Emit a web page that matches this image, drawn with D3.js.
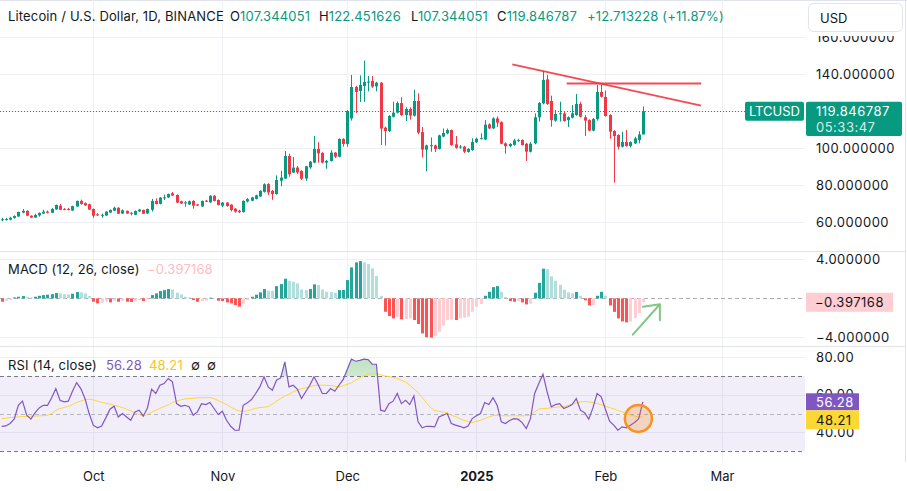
<!DOCTYPE html>
<html>
<head>
<meta charset="utf-8">
<script src="https://cdn.jsdelivr.net/npm/d3@7"></script>
<style>
  body { margin: 0; background: #fff; }
  svg { display: block; font-family: Inter, "Noto Sans", sans-serif; }
</style>
</head>
<body>
<svg id="chart" width="907" height="491"></svg>
<script>
// Litecoin / U.S. Dollar daily candles, MACD histogram and RSI

const firstDay = "2024-09-09";

const opens = [
  61.2, 61.5, 61.3, 62.2, 63.0, 65.1, 66.0, 63.4, 62.4, 63.6,
  64.6, 65.6, 65.0, 66.8, 68.8, 67.1, 67.0, 66.2, 68.4, 71.4,
  70.2, 69.6, 67.0, 64.1, 63.7, 63.5, 65.1, 66.1, 67.7, 64.6,
  66.0, 65.0, 63.9, 65.7, 66.5, 64.6, 66.6, 71.4, 69.8, 73.1,
  73.3, 75.5, 74.6, 71.2, 70.4, 69.5, 71.4, 69.5, 68.4, 71.5,
  70.6, 74.2, 71.9, 68.8, 70.5, 69.4, 67.2, 66.1, 65.4, 71.1,
  71.5, 72.5, 73.8, 76.3, 80.5, 76.8, 75.1, 82.3, 83.5, 95.7,
  86.7, 89.4, 87.6, 83.5, 89.5, 92.1, 99.5, 97.3, 92.1, 93.0,
  97.5, 95.3, 104.9, 102.2, 116.0, 133.0, 130.8, 133.5, 135.7, 136.2,
  133.3, 135.3, 111.0, 109.2, 116.9, 119.1, 124.3, 117.8, 121.1, 117.5,
  125.4, 108.6, 99.1, 101.3, 101.4, 99.5, 106.2, 107.9, 109.7, 102.0,
  100.6, 100.7, 97.9, 98.9, 103.1, 105.1, 104.6, 112.8, 110.6, 116.0,
  114.0, 102.5, 101.0, 101.7, 104.0, 104.3, 102.3, 98.0, 102.5, 116.6,
  124.1, 137.1, 125.4, 114.8, 118.6, 118.7, 115.1, 116.4, 117.8, 123.8,
  116.6, 115.1, 109.4, 115.7, 130.3, 127.6, 117.8, 109.2, 107.0, 100.7,
  103.2, 101.1, 102.5, 104.3, 107.344051
];
const highs = [
  62.2, 62.3, 62.8, 63.6, 65.6, 67.0, 66.4, 63.6, 64.4, 65.2,
  66.6, 66.2, 67.6, 69.4, 69.7, 67.5, 67.6, 68.8, 71.6, 72.1,
  70.6, 69.9, 67.3, 64.8, 64.6, 65.9, 66.8, 68.3, 68.0, 66.8,
  66.2, 65.3, 66.2, 67.1, 66.7, 67.3, 72.5, 72.8, 73.5, 74.8,
  75.4, 76.2, 74.9, 71.5, 71.2, 71.6, 71.8, 69.8, 71.6, 71.9,
  74.5, 74.5, 72.2, 70.8, 70.8, 69.6, 67.5, 66.6, 71.7, 72.9,
  73.6, 74.8, 77.2, 80.9, 81.0, 77.3, 85.2, 87.7, 98.4, 97.0,
  95.1, 90.3, 88.0, 90.4, 93.0, 106.5, 103.2, 97.8, 93.5, 98.8,
  97.8, 105.2, 105.3, 120.5, 139.5, 133.6, 139.2, 147.2, 138.9, 138.9,
  135.8, 135.6, 111.5, 117.8, 125.0, 125.2, 127.4, 122.0, 122.0, 131.5,
  129.5, 111.4, 101.8, 105.7, 101.8, 107.2, 110.5, 110.5, 110.0, 106.5,
  101.6, 101.2, 99.9, 105.2, 105.6, 107.9, 115.1, 113.3, 116.6, 117.1,
  114.4, 103.0, 102.6, 105.0, 105.0, 104.7, 102.8, 103.2, 118.7, 124.8,
  141.7, 139.5, 128.3, 120.5, 125.0, 119.6, 117.1, 123.2, 129.2, 125.0,
  117.8, 115.5, 116.2, 134.1, 134.1, 131.0, 118.3, 109.6, 107.4, 108.8,
  109.7, 103.6, 106.1, 109.1, 122.451626
];
const lows = [
  60.4, 60.8, 60.9, 61.8, 62.8, 64.7, 63.2, 62.1, 62.2, 62.9,
  64.3, 64.6, 64.8, 66.6, 66.4, 66.4, 66.3, 66.0, 68.2, 69.4,
  68.7, 66.5, 62.3, 63.3, 62.3, 63.3, 64.9, 65.9, 64.3, 64.4,
  64.4, 63.6, 63.7, 65.5, 64.3, 64.4, 65.6, 69.5, 69.5, 71.9,
  73.0, 74.0, 70.3, 69.8, 68.3, 69.2, 67.2, 68.6, 68.2, 70.8,
  70.4, 71.2, 68.9, 68.0, 68.3, 65.7, 65.0, 64.8, 65.1, 70.6,
  71.2, 72.2, 73.5, 75.9, 74.6, 72.0, 74.8, 79.3, 83.2, 84.5,
  86.5, 86.0, 82.7, 82.2, 88.8, 91.8, 92.1, 91.7, 88.8, 92.7,
  94.5, 95.0, 100.7, 100.7, 114.8, 118.9, 124.9, 125.0, 130.6, 132.5,
  130.6, 101.6, 101.3, 108.6, 116.5, 118.7, 117.4, 114.6, 115.3, 117.0,
  107.4, 94.8, 87.4, 98.0, 97.8, 99.2, 105.8, 107.4, 101.2, 99.6,
  99.6, 97.3, 97.5, 98.5, 102.7, 104.7, 104.2, 110.2, 110.3, 111.4,
  102.0, 96.9, 100.4, 101.3, 103.3, 101.3, 93.0, 97.6, 102.0, 114.3,
  123.6, 123.3, 111.5, 114.2, 114.3, 114.2, 111.4, 116.0, 117.4, 116.5,
  106.5, 109.0, 109.0, 114.8, 127.2, 117.0, 105.0, 81.3, 99.2, 100.3,
  100.7, 100.3, 102.1, 102.5, 107.344051
];
const closes = [
  61.5, 61.6, 62.3, 63.2, 65.4, 66.0, 63.4, 62.4, 63.8, 64.9,
  65.6, 65.0, 67.0, 69.2, 66.6, 66.9, 66.8, 68.6, 71.4, 69.8,
  69.0, 66.7, 63.4, 63.9, 63.9, 65.6, 66.5, 67.7, 64.5, 66.3,
  64.6, 64.8, 66.0, 66.7, 64.5, 67.0, 71.4, 69.7, 73.2, 73.3,
  75.1, 74.3, 70.5, 70.0, 70.6, 71.2, 68.8, 68.9, 71.4, 71.3,
  74.2, 71.4, 69.2, 70.5, 68.6, 66.5, 65.6, 65.3, 71.4, 72.4,
  73.3, 74.4, 76.8, 80.4, 76.0, 75.1, 82.7, 84.0, 95.7, 85.8,
  89.4, 86.8, 83.4, 90.1, 92.6, 99.5, 97.1, 92.1, 93.0, 97.5,
  95.3, 104.9, 102.2, 120.0, 133.0, 130.3, 134.1, 135.7, 135.9, 133.2,
  135.3, 110.5, 109.2, 117.3, 119.1, 124.3, 117.8, 121.1, 117.5, 125.4,
  108.3, 99.1, 101.4, 101.5, 99.5, 106.8, 108.1, 109.7, 101.6, 100.1,
  100.8, 98.0, 99.5, 103.2, 105.0, 105.3, 112.6, 110.6, 116.0, 113.7,
  102.3, 101.0, 102.2, 104.1, 104.2, 101.6, 98.0, 102.3, 116.6, 124.3,
  136.8, 123.8, 115.1, 118.4, 118.8, 114.6, 116.6, 118.7, 123.8, 116.9,
  114.8, 109.4, 115.7, 130.3, 127.7, 117.3, 108.8, 106.5, 100.7, 103.2,
  101.1, 103.2, 105.2, 107.3, 119.846787
];

const macdHist = [
  -0.34, -0.24, -0.17, 0.10, 0.17, 0.24, 0.17, 0.10, 0.17, 0.27,
  0.34, 0.38, 0.44, 0.55, 0.51, 0.44, 0.41, 0.48, 0.65, 0.62,
  0.51, 0.24, -0.34, -0.51, -0.44, -0.34, -0.41, -0.24, -0.34, -0.27,
  -0.34, -0.36, -0.24, -0.17, -0.27, -0.10, 0.34, 0.51, 0.75, 0.85,
  0.96, 0.92, 0.58, 0.41, 0.17, 0.10, -0.17, -0.34, -0.27, -0.24,
  0.07, 0.03, -0.24, -0.27, -0.41, -0.51, -0.68, -0.85, -0.51, -0.17,
  0.17, 0.38, 0.62, 0.96, 0.79, 0.78, 1.26, 1.47, 2.02, 1.81,
  1.71, 1.54, 0.92, 0.85, 0.96, 1.44, 1.37, 0.92, 0.68, 0.65,
  0.58, 0.85, 0.87, 1.88, 3.18, 3.69, 3.83, 3.69, 3.52, 3.08,
  2.29, 0.27, -1.37, -1.81, -2.05, -1.88, -2.15, -2.12, -2.05, -2.22,
  -2.63, -3.59, -3.98, -4.02, -3.86, -3.42, -2.80, -2.20, -2.18, -2.22,
  -2.05, -1.98, -1.88, -1.37, -0.85, -0.58, 0.27, 0.68, 1.16, 1.26,
  0.68, 0.14, -0.27, -0.34, -0.27, -0.41, -0.62, -0.55, 0.58, 1.60,
  3.05, 3.00, 2.26, 1.81, 1.40, 0.89, 0.62, 0.51, 0.66, 0.27,
  -0.20, -0.72, -0.70, 0.27, 0.68, 0.27, -0.72, -1.38, -2.05, -2.36,
  -2.46, -2.36, -2.02, -1.50, -0.397168
];

const rsi = [
  43.2, 43.4, 44.7, 47.0, 54.4, 56.6, 49.1, 47.0, 50.4, 53.0,
  54.4, 54.4, 58.4, 63.3, 57.1, 56.2, 56.6, 61.9, 66.5, 63.3,
  58.0, 50.0, 43.8, 42.4, 43.4, 47.7, 52.3, 53.9, 48.2, 50.0,
  48.2, 46.4, 50.9, 51.8, 48.6, 53.0, 63.0, 60.7, 65.1, 66.0,
  68.7, 66.9, 55.3, 53.9, 54.4, 53.6, 49.1, 50.9, 55.3, 54.8,
  55.9, 52.7, 49.5, 51.2, 46.4, 43.2, 41.1, 41.1, 54.4, 55.7,
  57.5, 60.7, 64.2, 69.6, 64.2, 62.4, 67.8, 69.0, 77.6, 64.2,
  65.1, 63.0, 58.0, 61.6, 65.1, 69.6, 65.5, 60.7, 60.7, 63.3,
  61.9, 65.1, 68.1, 73.6, 79.0, 77.9, 78.4, 79.0, 78.8, 76.3,
  76.3, 51.8, 51.2, 55.3, 56.6, 60.7, 55.3, 57.1, 54.8, 59.4,
  45.6, 42.4, 43.2, 43.2, 42.9, 48.2, 49.1, 50.0, 44.7, 43.8,
  43.2, 42.4, 43.4, 47.3, 48.8, 50.0, 55.9, 54.8, 58.5, 54.4,
  45.6, 44.7, 46.3, 47.3, 47.0, 45.2, 42.0, 47.3, 60.7, 66.0,
  71.0, 61.6, 53.6, 54.8, 55.3, 52.7, 53.6, 54.8, 58.0, 51.8,
  50.5, 47.0, 53.0, 60.7, 58.9, 52.3, 45.9, 43.8, 41.1, 42.9,
  42.4, 43.8, 45.2, 47.3, 56.28
];

const rsiMa = [
  47.3, 47.5, 47.9, 48.0, 48.2, 48.4, 48.4, 48.6, 48.6, 48.8,
  48.9, 49.1, 50.0, 51.6, 52.7, 53.2, 53.9, 54.8, 55.9, 56.6,
  57.5, 57.6, 57.3, 56.6, 56.0, 55.5, 55.0, 54.4, 53.9, 53.2,
  52.3, 51.4, 50.4, 49.5, 48.6, 49.6, 50.7, 51.8, 52.8, 53.7,
  54.6, 55.9, 56.6, 57.3, 57.8, 58.0, 58.2, 58.4, 58.4, 58.5,
  58.5, 58.0, 56.9, 55.9, 54.8, 53.4, 52.3, 51.4, 51.1, 51.4,
  52.1, 52.8, 53.2, 53.4, 53.7, 55.0, 56.6, 58.0, 59.4, 60.3,
  61.6, 62.6, 63.2, 63.7, 64.2, 64.9, 65.1, 65.1, 65.1, 64.9,
  64.6, 64.2, 64.9, 65.6, 66.4, 67.8, 69.0, 70.1, 71.0, 71.3,
  71.3, 70.8, 70.1, 69.7, 69.2, 68.7, 67.8, 66.9, 65.1, 63.2,
  61.2, 58.5, 55.9, 53.2, 51.6, 51.1, 50.9, 50.4, 49.1, 48.4,
  47.3, 46.4, 45.7, 45.2, 45.9, 46.4, 47.3, 48.2, 48.9, 49.1,
  48.9, 48.8, 48.8, 48.8, 48.8, 48.8, 48.9, 49.1, 50.9, 52.3,
  52.7, 52.8, 53.0, 53.4, 53.6, 53.7, 54.3, 55.0, 55.7, 56.2,
  56.4, 56.2, 55.9, 55.3, 54.8, 53.9, 53.2, 52.5, 51.6, 50.9,
  50.0, 49.3, 48.6, 48.0, 48.21
];

// axis ticks
const monthTicks = ["2024-10-01", "2024-11-01", "2024-12-01", "2025-01-01", "2025-02-01", "2025-03-01"];
const monthLabels = ["Oct", "Nov", "Dec", "2025", "Feb", "Mar"];
const priceGrid = [60, 80, 100, 120, 140, 160];
const priceTicks = [60, 80, 100, 140, 160];  // 120 sits under the last-price tag
const macdTicks = [4, -4];
const rsiTicks = [80, 60, 40];

// drawings placed on the chart (date, value)
const trendLines = [
  { from: ["2025-01-09T15:00Z", 145.2], to: ["2025-02-24T00:00Z", 122.9] },
  { from: ["2025-01-22T17:00Z", 134.8], to: ["2025-02-24T00:00Z", 134.8] }
];
const arrowMark = { from: ["2025-02-07T14:00Z", -3.72], to: ["2025-02-14T02:00Z", -0.6] };
const circleMark = { at: ["2025-02-08T22:00Z", 47.4] };

// ---------------------------------------------------------------
const W = 907, H = 491, plotRight = 805;
const green = "#089981", red = "#f23645", text = "#131722";
const gridColor = "#eef0f4", sepColor = "#e0e3eb";
const fontFam = "Inter, 'Noto Sans', sans-serif";

const svg = d3.select("#chart");
const dates = d3.utcDay.range(new Date(firstDay), d3.utcDay.offset(new Date(firstDay), closes.length));
const candles = dates.map((d, i) => ({ date: d, o: opens[i], h: highs[i], l: lows[i], c: closes[i] }));

const x = d3.scaleUtc()
  .domain([new Date("2024-09-09"), new Date("2025-03-01")])
  .range([1.7, 722]);
const yPrice = d3.scaleLinear().domain([60, 160]).range([222, 37]);
const yMacd = d3.scaleLinear().domain([-4, 4]).range([337.4, 259.4]);
const yRsi = d3.scaleLinear().domain([40, 80]).range([432.3, 357.3]);

const px = d => Math.round(x(d));

// clip paths for panels
const defs = svg.append("defs");
defs.append("clipPath").attr("id", "clipPrice").append("rect").attr("x", 0).attr("y", 0).attr("width", plotRight).attr("height", 251);
defs.append("clipPath").attr("id", "clipMacd").append("rect").attr("x", 0).attr("y", 251).attr("width", plotRight).attr("height", 95);
defs.append("clipPath").attr("id", "clipRsi").append("rect").attr("x", 0).attr("y", 346).attr("width", plotRight).attr("height", 115);
defs.append("clipPath").attr("id", "clipOver").append("rect").attr("x", 0).attr("y", 346).attr("width", plotRight).attr("height", yRsi(70) - 346);
const grad = defs.append("linearGradient").attr("id", "obGrad").attr("x1", 0).attr("x2", 0).attr("y1", 0).attr("y2", 1);
grad.append("stop").attr("offset", "0%").attr("stop-color", "rgba(76,175,80,0.35)");
grad.append("stop").attr("offset", "100%").attr("stop-color", "rgba(76,175,80,0.04)");

// top and right frame
svg.append("line").attr("x1", 0).attr("x2", W).attr("y1", 0.5).attr("y2", 0.5).attr("stroke", sepColor);
svg.append("line").attr("x1", 905.5).attr("x2", 905.5).attr("y1", 0).attr("y2", 462).attr("stroke", sepColor);

// vertical month grid through all panes
svg.append("g").selectAll("line")
  .data(monthTicks)
  .join("line")
  .attr("x1", d => px(new Date(d)) + 0.5)
  .attr("x2", d => px(new Date(d)) + 0.5)
  .attr("y1", 0).attr("y2", 461)
  .attr("stroke", gridColor);

// horizontal grid, price pane
svg.append("g").selectAll("line")
  .data(priceGrid)
  .join("line")
  .attr("x1", 0).attr("x2", plotRight)
  .attr("y1", d => Math.round(yPrice(d)) + 0.5)
  .attr("y2", d => Math.round(yPrice(d)) + 0.5)
  .attr("stroke", gridColor);

// MACD and RSI grid
svg.append("g").selectAll("line")
  .data(macdTicks)
  .join("line")
  .attr("x1", 0).attr("x2", plotRight)
  .attr("y1", d => Math.round(yMacd(d)) + 0.5)
  .attr("y2", d => Math.round(yMacd(d)) + 0.5)
  .attr("stroke", gridColor);
svg.append("g").selectAll("line")
  .data(rsiTicks)
  .join("line")
  .attr("x1", 0).attr("x2", plotRight)
  .attr("y1", d => Math.round(yRsi(d)) + 0.5)
  .attr("y2", d => Math.round(yRsi(d)) + 0.5)
  .attr("stroke", gridColor);

// pane separators
[251, 346].forEach(y => {
  svg.append("line").attr("x1", 0).attr("x2", 906).attr("y1", y + 0.5).attr("y2", y + 0.5).attr("stroke", sepColor);
});

// ---------------- price pane ----------------
const pricePane = svg.append("g").attr("clip-path", "url(#clipPrice)");

const lastClose = closes[closes.length - 1];
pricePane.append("line")
  .attr("x1", 0).attr("x2", 745)
  .attr("y1", Math.round(yPrice(lastClose)) + 0.5)
  .attr("y2", Math.round(yPrice(lastClose)) + 0.5)
  .attr("stroke", green)
  .attr("stroke-dasharray", "1 2");

const candleG = pricePane.append("g")
  .selectAll("g")
  .data(candles)
  .join("g")
  .attr("fill", d => d.c >= d.o ? green : red)
  .attr("stroke", d => d.c >= d.o ? green : red);

candleG.append("line")
  .attr("x1", d => px(d.date) + 0.5)
  .attr("x2", d => px(d.date) + 0.5)
  .attr("y1", d => yPrice(d.h))
  .attr("y2", d => yPrice(d.l))
  .attr("stroke-width", 1);

candleG.append("rect")
  .attr("stroke", "none")
  .attr("x", d => px(d.date) - 1)
  .attr("width", 3)
  .attr("y", d => yPrice(Math.max(d.o, d.c)))
  .attr("height", d => Math.max(1, Math.abs(yPrice(d.o) - yPrice(d.c))));

// trend lines
pricePane.append("g").selectAll("line")
  .data(trendLines)
  .join("line")
  .attr("x1", d => x(new Date(d.from[0])))
  .attr("y1", d => yPrice(d.from[1]))
  .attr("x2", d => x(new Date(d.to[0])))
  .attr("y2", d => yPrice(d.to[1]))
  .attr("stroke", red)
  .attr("stroke-opacity", 0.9)
  .attr("stroke-width", 2);

// price axis
const priceAxis = svg.append("g")
  .attr("transform", `translate(${plotRight},0)`)
  .call(d3.axisRight(yPrice).tickValues(priceTicks).tickSize(0).tickPadding(11).tickFormat(d3.format(".6f")));
priceAxis.select(".domain").remove();
priceAxis.selectAll("text").attr("fill", text).attr("font-size", 13).attr("letter-spacing", 0.5).attr("font-family", fontFam);

// mask the top of the axis under the currency button
svg.append("rect").attr("x", 806).attr("y", 1).attr("width", 99).attr("height", 35).attr("fill", "#fff");
svg.append("rect")
  .attr("x", 808.5).attr("y", 3.5).attr("width", 94).attr("height", 28).attr("rx", 5)
  .attr("fill", "#fff").attr("stroke", sepColor);
svg.append("text").attr("x", 820).attr("y", 22.5).attr("font-size", 13).attr("fill", text).text("USD");

// last price tag
const tagY = 101.7;
svg.append("rect").attr("x", 806).attr("y", tagY).attr("width", 96).attr("height", 34.3).attr("rx", 2).attr("fill", green);
svg.append("text").attr("x", 816).attr("y", tagY + 14).attr("font-size", 13).attr("letter-spacing", 0.5).attr("fill", "#fff").text(d3.format(".6f")(lastClose));
svg.append("text").attr("x", 816).attr("y", tagY + 30).attr("font-size", 13).attr("letter-spacing", 0.5).attr("fill", "#fff").attr("fill-opacity", 0.85).text("05:33:47");
svg.append("rect").attr("x", 745).attr("y", tagY).attr("width", 59).attr("height", 19).attr("rx", 2).attr("fill", green);
svg.append("text").attr("x", 749).attr("y", tagY + 14).attr("font-size", 13).attr("fill", "#fff").text("LTCUSD");

// header legend
const header = svg.append("text").attr("y", 21).attr("font-size", 13).attr("letter-spacing", 0.15).attr("fill", text);
header.append("tspan").attr("x", 8).text("Litecoin / U.S. Dollar, 1D, BINANCE");
const last = candles[candles.length - 1];
const f6 = d3.format(".6f");
const ohlc = [
  ["O", f6(last.o), 230], ["H", f6(last.h), 319], ["L", f6(last.l), 411], ["C", f6(last.c), 497]
];
ohlc.forEach(([k, v, xx]) => {
  header.append("tspan").attr("x", xx).attr("fill", text).text(k);
  header.append("tspan").attr("fill", green).text(v);
});
header.append("tspan").attr("x", 587).attr("fill", green).text("+12.713228 (+11.87%)");

// ---------------- MACD pane ----------------
const macdPane = svg.append("g").attr("clip-path", "url(#clipMacd)");
macdPane.append("line")
  .attr("x1", 0).attr("x2", plotRight)
  .attr("y1", Math.round(yMacd(0)) + 0.5).attr("y2", Math.round(yMacd(0)) + 0.5)
  .attr("stroke", "#9598a1").attr("stroke-opacity", 0.8).attr("stroke-dasharray", "4 3");

const histColor = (v, i) => {
  const prev = i > 0 ? macdHist[i - 1] : v;
  if (v >= 0) return prev < v ? "#26a69a" : "#b2dfdb";
  return prev < v ? "#ffcdd2" : "#ff5252";
};
macdPane.append("g").selectAll("rect")
  .data(macdHist)
  .join("rect")
  .attr("x", (d, i) => px(dates[i]) - 1)
  .attr("width", 3)
  .attr("y", d => Math.min(yMacd(d), yMacd(0)))
  .attr("height", d => Math.abs(yMacd(d) - yMacd(0)))
  .attr("fill", histColor);

// hand drawn arrow
const ax1 = x(new Date(arrowMark.from[0])), ay1 = yMacd(arrowMark.from[1]);
const ax2 = x(new Date(arrowMark.to[0])), ay2 = yMacd(arrowMark.to[1]);
macdPane.append("path")
  .attr("d", `M${ax1},${ay1}L${ax2},${ay2}M${ax2 - 17},${ay2 + 2.5}L${ax2},${ay2}L${ax2},${ay2 + 16}`)
  .attr("fill", "none").attr("stroke", "#81c784").attr("stroke-width", 2).attr("stroke-linecap", "round").attr("stroke-linejoin", "round");

const macdAxis = svg.append("g")
  .attr("transform", `translate(${plotRight},0)`)
  .call(d3.axisRight(yMacd).tickValues(macdTicks).tickSize(0).tickPadding(11).tickFormat(d3.format(".6f")));
macdAxis.select(".domain").remove();
macdAxis.selectAll("text").attr("fill", text).attr("font-size", 13).attr("letter-spacing", 0.5).attr("font-family", fontFam);

const macdLast = macdHist[macdHist.length - 1];
svg.append("rect").attr("x", 806).attr("y", yMacd(macdLast) - 9.5).attr("width", 87).attr("height", 19).attr("fill", "#ffcdd2");
svg.append("text").attr("x", 815).attr("y", yMacd(macdLast) + 4.5).attr("font-size", 13).attr("letter-spacing", 0.5).attr("fill", text).text(d3.format(".6f")(macdLast));

const macdLegend = svg.append("text").attr("y", 273.5).attr("font-size", 13).attr("letter-spacing", 0.15).attr("fill", text);
macdLegend.append("tspan").attr("x", 8).text("MACD (12, 26, close)");
macdLegend.append("tspan").attr("x", 147).attr("fill", "#ffbcc3").text(d3.format(".6f")(macdLast));

// ---------------- RSI pane ----------------
const rsiPane = svg.append("g").attr("clip-path", "url(#clipRsi)");
rsiPane.append("rect")
  .attr("x", 0).attr("width", plotRight)
  .attr("y", yRsi(70)).attr("height", yRsi(30) - yRsi(70))
  .attr("fill", "rgba(126,87,194,0.1)");
[70, 30].forEach(v => {
  rsiPane.append("line").attr("x1", 0).attr("x2", plotRight)
    .attr("y1", Math.round(yRsi(v)) + 0.5).attr("y2", Math.round(yRsi(v)) + 0.5)
    .attr("stroke", "#787b86").attr("stroke-dasharray", "4 3");
});
rsiPane.append("line").attr("x1", 0).attr("x2", plotRight)
  .attr("y1", Math.round(yRsi(50)) + 0.5).attr("y2", Math.round(yRsi(50)) + 0.5)
  .attr("stroke", "#787b86").attr("stroke-opacity", 0.5).attr("stroke-dasharray", "4 3");

// overbought fill
rsiPane.append("path")
  .datum(rsi)
  .attr("clip-path", "url(#clipOver)")
  .attr("fill", "url(#obGrad)")
  .attr("d", d3.area().x((d, i) => x(dates[i])).y0(yRsi(70)).y1(d => yRsi(d)));

rsiPane.append("path")
  .datum(rsiMa)
  .attr("fill", "none").attr("stroke", "#fdd835").attr("stroke-width", 1)
  .attr("d", d3.line().x((d, i) => x(dates[i])).y(d => yRsi(d)));
rsiPane.append("path")
  .datum(rsi)
  .attr("fill", "none").attr("stroke", "#7e57c2").attr("stroke-width", 1.2)
  .attr("d", d3.line().x((d, i) => x(dates[i])).y(d => yRsi(d)));

// hand drawn circle
rsiPane.append("circle")
  .attr("cx", x(new Date(circleMark.at[0])))
  .attr("cy", yRsi(circleMark.at[1]))
  .attr("r", 13.5)
  .attr("fill", "rgba(245,124,0,0.22)")
  .attr("stroke", "#f7931e").attr("stroke-width", 2.5);

const rsiAxis = svg.append("g")
  .attr("transform", `translate(${plotRight},0)`)
  .call(d3.axisRight(yRsi).tickValues(rsiTicks).tickSize(0).tickPadding(11).tickFormat(d3.format(".2f")));
rsiAxis.select(".domain").remove();
rsiAxis.selectAll("text").attr("fill", text).attr("font-size", 13).attr("letter-spacing", 0.5).attr("font-family", fontFam);

const rsiLast = rsi[rsi.length - 1], maLast = rsiMa[rsiMa.length - 1];
svg.append("rect").attr("x", 806).attr("y", 393.3).attr("width", 53).attr("height", 17).attr("fill", "#7e57c2");
svg.append("text").attr("x", 816).attr("y", 406.5).attr("font-size", 13).attr("letter-spacing", 0.5).attr("fill", "#fff").text(d3.format(".2f")(rsiLast));
svg.append("rect").attr("x", 806).attr("y", 410.3).attr("width", 53).attr("height", 19).attr("fill", "#fdd835");
svg.append("text").attr("x", 816).attr("y", 424.5).attr("font-size", 13).attr("letter-spacing", 0.5).attr("fill", text).text(d3.format(".2f")(maLast));

const rsiLegend = svg.append("text").attr("y", 369.5).attr("font-size", 13).attr("letter-spacing", 0.15).attr("fill", text);
rsiLegend.append("tspan").attr("x", 8).text("RSI (14, close)");
rsiLegend.append("tspan").attr("x", 106).attr("fill", "#7e57c2").text(d3.format(".2f")(rsiLast));
rsiLegend.append("tspan").attr("x", 149).attr("fill", "#f7c52b").text(d3.format(".2f")(maLast));
rsiLegend.append("tspan").attr("x", 191).attr("font-size", 13).text("∅");
rsiLegend.append("tspan").attr("x", 207).attr("font-size", 13).text("∅");

// ---------------- time axis ----------------
const timeAxis = svg.append("g")
  .attr("transform", "translate(0,472)")
  .call(d3.axisBottom(x)
    .tickValues(monthTicks.map(d => new Date(d)))
    .tickSize(0).tickPadding(0)
    .tickFormat((d, i) => monthLabels[i]));
timeAxis.select(".domain").remove();
timeAxis.selectAll("text")
  .attr("fill", text).attr("font-size", 13).attr("font-family", fontFam)
  .attr("font-weight", (d, i) => monthLabels[i] === "2025" ? 700 : 400);
</script>
</body>
</html>
